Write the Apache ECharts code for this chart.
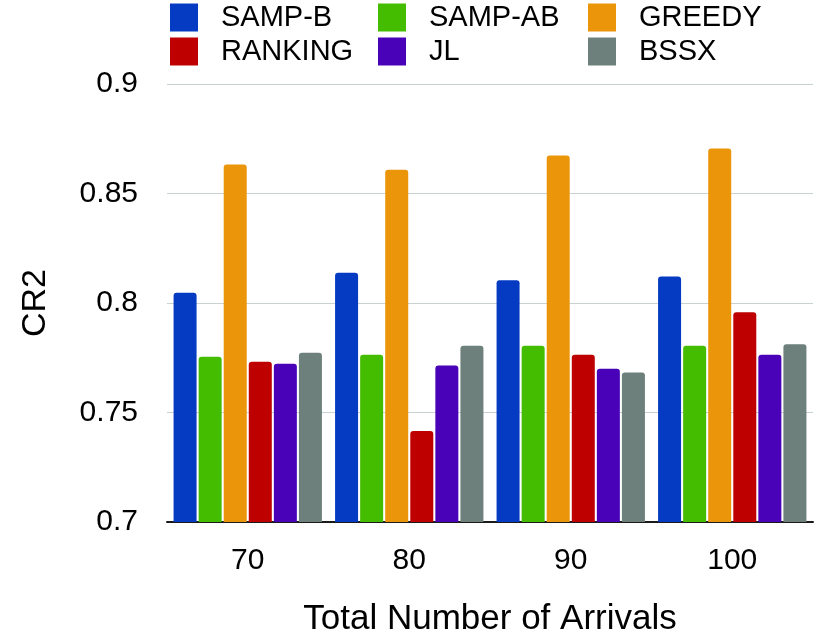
<!DOCTYPE html>
<html>
<head>
<meta charset="utf-8">
<script src="https://cdn.jsdelivr.net/npm/echarts@6/dist/echarts.min.js"></script>
<style>
html,body{margin:0;padding:0;background:#fff;}
#chart{width:830px;height:638px;}
</style>
</head>
<body>
<div id="chart"></div>
<script>
const categories = ['70', '80', '90', '100'];
const seriesNames = ['SAMP-B', 'SAMP-AB', 'GREEDY', 'RANKING', 'JL', 'BSSX'];
const sampB   = [0.8047, 0.8138, 0.8104, 0.8121];
const sampAB  = [0.7755, 0.7764, 0.7805, 0.7805];
const greedy  = [0.8632, 0.8608, 0.8673, 0.8705];
const ranking = [0.7732, 0.7415, 0.7764, 0.7958];
const jl      = [0.7723, 0.7715, 0.7700, 0.7764];
const bssx    = [0.7773, 0.7805, 0.7683, 0.7812];
const yTicks  = [0.7, 0.75, 0.8, 0.85, 0.9];

const values = [sampB, sampAB, greedy, ranking, jl, bssx];
const colors = ['#043BC2', '#44BD00', '#EB950B', '#BE0000', '#4A02B8', '#6D807C'];
const FONT = 'Liberation Sans, Arial, Helvetica, sans-serif';

const chart = echarts.init(document.getElementById('chart'));

function legendCol(names, left) {
  return {
    orient: 'vertical',
    left: left,
    top: 3,
    padding: 0,
    itemWidth: 28,
    itemHeight: 28,
    itemGap: 5,
    icon: 'rect',
    data: names,
    textStyle: {fontFamily: FONT, fontSize: 29, color: '#000', padding: [0, 0, 0, 18]}
  };
}

chart.setOption({
  animation: false,
  color: colors,
  legend: [
    legendCol([seriesNames[0], seriesNames[3]], 170),
    legendCol([seriesNames[1], seriesNames[4]], 378),
    legendCol([seriesNames[2], seriesNames[5]], 588)
  ],
  grid: {left: 167, right: 17, top: 84, bottom: 116, containLabel: false, outerBoundsMode: 'none'},
  xAxis: {
    type: 'category',
    data: categories,
    name: 'Total Number of Arrivals',
    nameLocation: 'middle',
    nameGap: 80,
    nameTextStyle: {fontFamily: FONT, fontSize: 35, color: '#000'},
    axisLine: {show: true, lineStyle: {color: '#1a1a1a', width: 2}},
    axisTick: {show: false},
    axisLabel: {fontFamily: FONT, fontSize: 30, color: '#000', margin: 24}
  },
  yAxis: {
    type: 'value',
    min: yTicks[0],
    max: yTicks[yTicks.length - 1],
    interval: 0.05,
    name: 'CR2',
    nameLocation: 'middle',
    nameGap: 114,
    nameRotate: 90,
    nameTextStyle: {fontFamily: FONT, fontSize: 34, color: '#000'},
    axisLine: {show: false},
    axisTick: {show: false},
    axisLabel: {fontFamily: FONT, fontSize: 30, color: '#000', margin: 29},
    splitLine: {show: true, lineStyle: {color: '#c8d2d2', width: 1}}
  },
  series: seriesNames.map((n, i) => ({
    name: n,
    type: 'bar',
    data: values[i],
    barWidth: 23,
    barGap: '9%',
    itemStyle: {color: colors[i], borderRadius: [3, 3, 0, 0]}
  }))
});
</script>
</body>
</html>
